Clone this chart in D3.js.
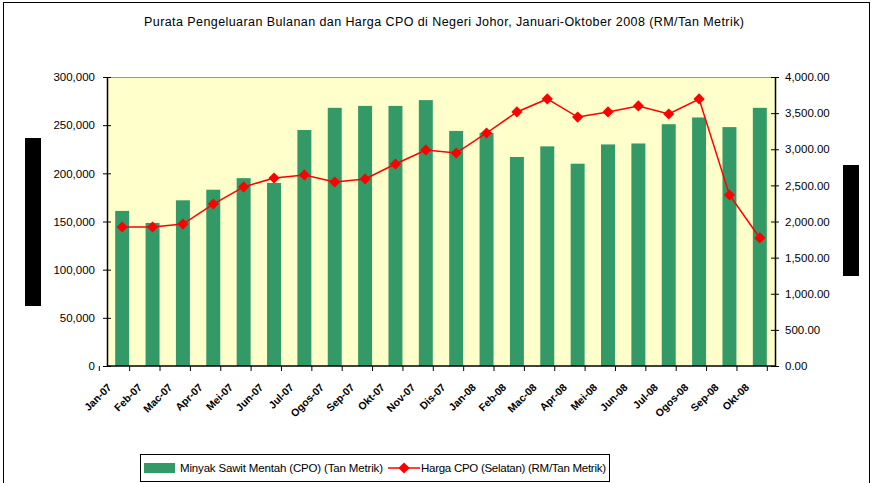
<!DOCTYPE html>
<html>
<head>
<meta charset="utf-8">
<script src="https://cdn.jsdelivr.net/npm/d3@7"></script>
<style>
body { margin: 0; background: #fff; }
svg { font-family: "Liberation Sans", Arial, sans-serif; }
</style>
</head>
<body>
<div id="chart"></div>
<script>
var months = ["Jan-07", "Feb-07", "Mac-07", "Apr-07", "Mei-07", "Jun-07", "Jul-07", "Ogos-07", "Sep-07", "Okt-07", "Nov-07", "Dis-07",
    "Jan-08", "Feb-08", "Mac-08", "Apr-08", "Mei-08", "Jun-08", "Jul-08", "Ogos-08", "Sep-08", "Okt-08"];
var produksi = [161000, 148500, 172000, 183000, 195000, 190000, 245000, 268000, 270000, 270000, 276000, 244000,
    242000, 217000, 228000, 210000, 230000, 231000, 251000, 258000, 248000, 268000];
var harga = [1924, 1924, 1965, 2242, 2478, 2602, 2644, 2547, 2588, 2796, 2990, 2948,
    3225, 3516, 3696, 3446, 3516, 3599, 3488, 3696, 2367, 1772];
var leftTicks = [0, 50000, 100000, 150000, 200000, 250000, 300000];
var rightTicks = [0, 500, 1000, 1500, 2000, 2500, 3000, 3500, 4000];

var margin = { top: 77, right: 98, bottom: 117, left: 107 };
var width = 873 - margin.left - margin.right;
var height = 483 - margin.top - margin.bottom;

var svg = d3.select("#chart").append("svg")
    .attr("width", 873)
    .attr("height", 483);

// outer frame
svg.append("rect")
    .attr("x", 3.5).attr("y", 2.5)
    .attr("width", 866).attr("height", 490)
    .attr("fill", "none").attr("stroke", "#000");

svg.append("text")
    .attr("x", 444).attr("y", 26)
    .attr("text-anchor", "middle")
    .attr("font-size", 12.5)
    .attr("textLength", 600)
    .text("Purata Pengeluaran Bulanan dan Harga CPO di Negeri Johor, Januari-Oktober 2008 (RM/Tan Metrik)");

var g = svg.append("g")
    .attr("transform", "translate(" + margin.left + "," + margin.top + ")");

var x = d3.scaleBand().domain(months).range([0, width]).paddingInner(0.54).paddingOuter(0.27);
var yL = d3.scaleLinear().domain([0, 300000]).range([height, 0]);
var yR = d3.scaleLinear().domain([0, 4000]).range([height, 0]);

g.append("rect")
    .attr("width", width).attr("height", height)
    .attr("fill", "#ffffcc");
g.append("line")
    .attr("x1", 0).attr("x2", width).attr("y1", 0.5).attr("y2", 0.5)
    .attr("stroke", "#999");

g.selectAll(".bar")
    .data(produksi)
    .enter().append("rect")
    .attr("class", "bar")
    .attr("x", function (d, i) { return x(months[i]); })
    .attr("y", function (d) { return yL(d); })
    .attr("width", x.bandwidth())
    .attr("height", function (d) { return height - yL(d); })
    .attr("fill", "#339966");

var line = d3.line()
    .x(function (d, i) { return x(months[i]) + x.bandwidth() / 2; })
    .y(function (d) { return yR(d); });
g.append("path")
    .datum(harga)
    .attr("d", line)
    .attr("fill", "none")
    .attr("stroke", "#ff0000")
    .attr("stroke-width", 1.5);
g.selectAll(".pt")
    .data(harga)
    .enter().append("path")
    .attr("class", "pt")
    .attr("d", d3.symbol().type(d3.symbolDiamond2).size(80))
    .attr("transform", function (d, i) {
        return "translate(" + (x(months[i]) + x.bandwidth() / 2) + "," + yR(d) + ")";
    })
    .attr("fill", "#ff0000");

// axes
var axL = g.append("g")
    .call(d3.axisLeft(yL).tickValues(leftTicks).tickSizeInner(4).tickSizeOuter(0).tickFormat(d3.format(",")));
axL.selectAll(".tick line").attr("x2", 4).attr("x1", -4);
axL.selectAll("text").attr("x", -12);

var axR = g.append("g")
    .attr("transform", "translate(" + width + ",0)")
    .call(d3.axisRight(yR).tickValues(rightTicks).tickSizeInner(4).tickSizeOuter(0).tickFormat(d3.format(",.2f")));
axR.selectAll(".tick line").attr("x1", -4).attr("x2", 4);
axR.selectAll("text").attr("x", 10);

[axL, axR].forEach(function (a) {
    a.select(".domain").attr("stroke", "#000").attr("stroke-width", 1.5);
    a.selectAll("text").attr("font-size", 11.5).attr("fill", "#000")
        .attr("font-family", "Liberation Sans, Arial, sans-serif");
});

var step = x.step();
var axB = g.append("g")
    .attr("transform", "translate(0," + height + ")");
axB.append("line")
    .attr("x1", 0).attr("x2", width)
    .attr("stroke", "#000").attr("stroke-width", 1.5);
axB.selectAll(".tk")
    .data(d3.range(months.length + 1))
    .enter().append("line")
    .attr("x1", function (i) { return x(months[0]) - x.paddingOuter() * step + i * step - x.paddingInner() * step / 2 + 0.5; })
    .attr("x2", function (i) { return x(months[0]) - x.paddingOuter() * step + i * step - x.paddingInner() * step / 2 + 0.5; })
    .attr("y1", 0).attr("y2", 5)
    .attr("stroke", "#000");
axB.selectAll(".lbl")
    .data(months)
    .enter().append("text")
    .attr("transform", function (d) {
        return "translate(" + (x(d) + x.bandwidth() / 2 - 10) + ",22) rotate(-45)";
    })
    .attr("text-anchor", "end")
    .attr("font-size", 10.5)
    .attr("font-weight", "bold")
    .text(function (d) { return d; });

// legend
var lg = svg.append("g").attr("transform", "translate(140,454)");
lg.append("rect")
    .attr("x", 0.5).attr("y", 0.5).attr("width", 469).attr("height", 27)
    .attr("fill", "#fff").attr("stroke", "#000");
lg.append("rect")
    .attr("x", 4).attr("y", 9).attr("width", 31).attr("height", 10)
    .attr("fill", "#339966");
lg.append("text")
    .attr("x", 40).attr("y", 18)
    .attr("font-size", 11.5)
    .attr("textLength", 203)
    .text("Minyak Sawit Mentah (CPO) (Tan Metrik)");
lg.append("line")
    .attr("x1", 248).attr("x2", 280).attr("y1", 14).attr("y2", 14)
    .attr("stroke", "#ff0000").attr("stroke-width", 1.5);
lg.append("path")
    .attr("d", d3.symbol().type(d3.symbolDiamond2).size(80))
    .attr("transform", "translate(264,14)")
    .attr("fill", "#ff0000");
lg.append("text")
    .attr("x", 281).attr("y", 18)
    .attr("font-size", 11.5)
    .attr("textLength", 185)
    .text("Harga CPO (Selatan) (RM/Tan Metrik)");

// black boxes
svg.append("rect").attr("x", 25).attr("y", 138).attr("width", 16).attr("height", 168).attr("fill", "#000");
svg.append("rect").attr("x", 843).attr("y", 165).attr("width", 16).attr("height", 111).attr("fill", "#000");
</script>
</body>
</html>
